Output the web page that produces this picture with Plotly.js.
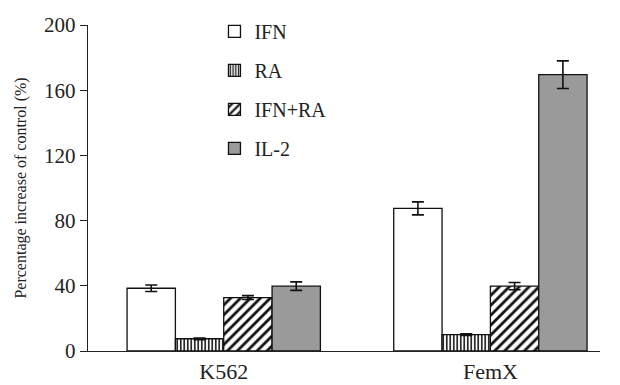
<!DOCTYPE html>
<html>
<head>
<meta charset="utf-8">
<script src="https://cdn.plot.ly/plotly-3.0.1.min.js"></script>
<style>html,body{margin:0;padding:0;background:#fff;}#chart{width:620px;height:385px;}</style>
</head>
<body>
<div id="chart"></div>
<script>
const categories = ["K562", "FemX"];
const seriesNames = ["IFN", "RA", "IFN+RA", "IL-2"];
const ifnValues = [38.5, 87.5];
const ifnErrors = [2, 4];
const raValues = [7.5, 10];
const raErrors = [0.5, 0.5];
const ifnRaValues = [32.8, 39.8];
const ifnRaErrors = [1.2, 2.2];
const il2Values = [39.8, 169.5];
const il2Errors = [2.6, 8.5];
const yTicks = [0, 40, 80, 120, 160, 200];

const serif = "Liberation Serif, serif";
const lineStyle = {color: "#111", width: 1.3};
function errBar(arr) {
  return {type: "data", array: arr, visible: true, color: "#111", thickness: 1.6, width: 6};
}
const traces = [
  {name: seriesNames[0], x: categories, y: ifnValues, type: "bar", legendgroup: "a",
   marker: {color: "#ffffff", line: lineStyle}, error_y: errBar(ifnErrors)},
  {name: seriesNames[1], x: categories, y: raValues, type: "bar", legendgroup: "b",
   marker: {color: "#ffffff", line: lineStyle,
     pattern: {shape: "|", fgcolor: "#111", bgcolor: "#ffffff", size: 3.5, solidity: 0.45}},
   error_y: errBar(raErrors)},
  {name: seriesNames[2], x: categories, y: ifnRaValues, type: "bar", legendgroup: "c",
   marker: {color: "#ffffff", line: lineStyle,
     pattern: {shape: "/", fgcolor: "#111", bgcolor: "#ffffff", size: 7, solidity: 0.4}},
   error_y: errBar(ifnRaErrors)},
  {name: seriesNames[3], x: categories, y: il2Values, type: "bar", legendgroup: "d",
   marker: {color: "#9a9a9a", line: lineStyle}, error_y: errBar(il2Errors)}
];

const layout = {
  width: 620, height: 385,
  margin: {l: 88, r: 20, t: 22, b: 34},
  paper_bgcolor: "#fff", plot_bgcolor: "#fff",
  barmode: "group", bargap: 0.275, bargroupgap: 0,
  font: {family: serif, size: 16, color: "#222"},
  showlegend: true,
  legend: {x: 0.247, y: 1.04, xanchor: "left", yanchor: "top", bgcolor: "rgba(0,0,0,0)",
    font: {family: serif, size: 20, color: "#222"}, traceorder: "grouped", tracegroupgap: 10},
  xaxis: {type: "category", range: [-0.509, 1.411], showline: true, linecolor: "#222", linewidth: 1.2,
    ticks: "", showgrid: false, zeroline: false, tickfont: {family: serif, size: 22, color: "#222"}},
  yaxis: {range: [0, 200], tickvals: yTicks, showline: true, linecolor: "#222", linewidth: 1.2,
    ticks: "outside", ticklen: 7, tickcolor: "#222", showgrid: false, zeroline: false,
    tickfont: {family: serif, size: 21, color: "#222"},
    title: {text: "Percentage increase of control (%)", font: {family: serif, size: 16, color: "#222"}, standoff: 13}}
};
Plotly.newPlot("chart", traces, layout, {staticPlot: true, displayModeBar: false});
</script>
</body>
</html>
